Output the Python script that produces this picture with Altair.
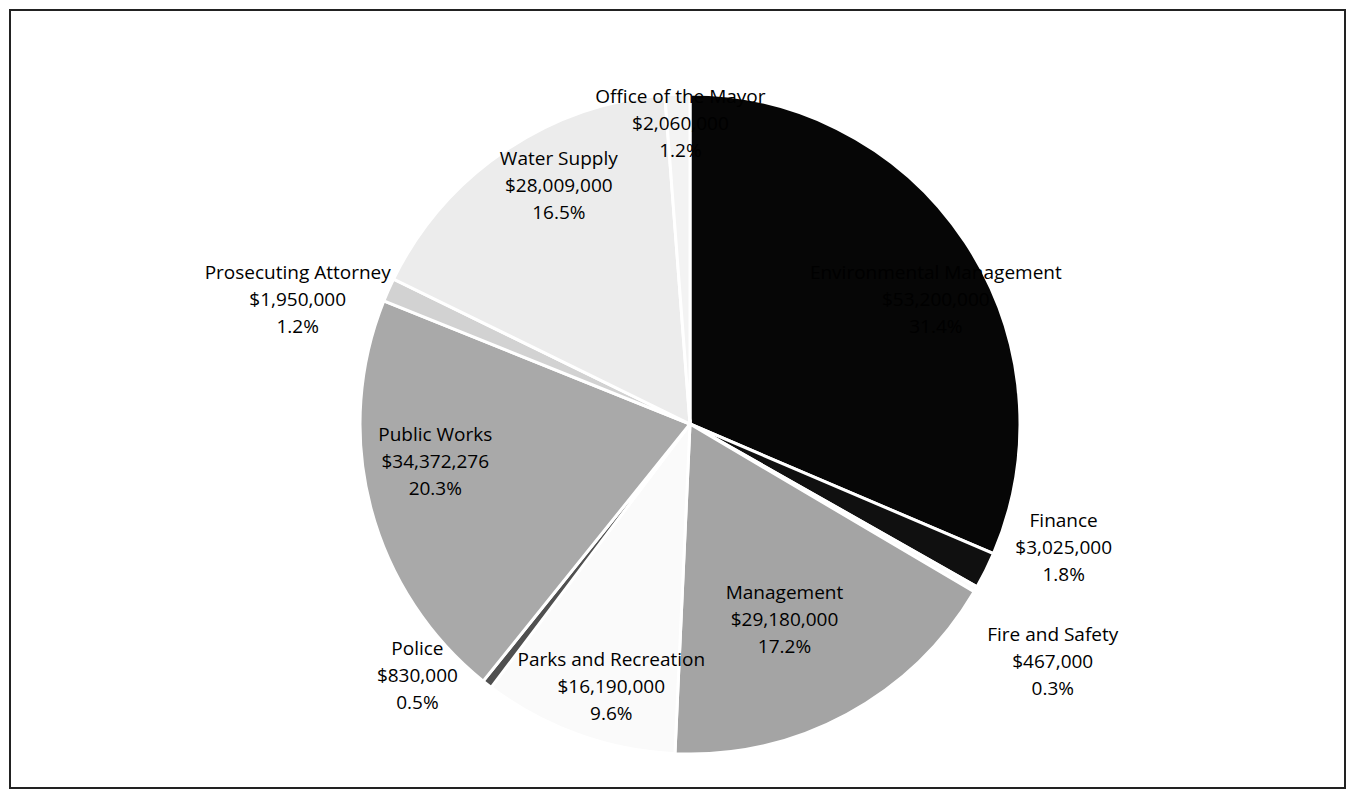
import altair as alt
import pandas as pd

categories = [
    "Environmental Management", "Finance", "Fire and Safety", "Management",
    "Parks and Recreation", "Police", "Public Works", "Prosecuting Attorney",
    "Water Supply", "Office of the Mayor",
]
values = [53200000, 3025000, 467000, 29180000, 16190000, 830000,
          34372276, 1950000, 28009000, 2060000]

# styling / layout (not data)
colors = ["#060606", "#101010", "#fbfbfb", "#a4a4a4", "#fafafa", "#505050",
          "#a9a9a9", "#d2d2d2", "#ececec", "#f3f3f3"]
label_radius = [280, 400, 440, 222, 275, 368, 252, 405, 267, 298]
label_nudge_deg = [7.5, -8.0, 3.0, 1.5, -4.5, 8.5, 5.4, -6.5, 6.2, 1.5]

total = sum(values)
labels = [f"{c}\n${v:,}\n{100 * v / total:.1f}%" for c, v in zip(categories, values)]

df = pd.DataFrame({
    "category": categories,
    "value": values,
    "order": list(range(len(categories))),
    "lr": label_radius,
    "nudge": label_nudge_deg,
    "label": labels,
})

CX, CY, R = 680, 414, 330

base = alt.Chart(df)

arcs = base.mark_arc(x=CX, y=CY, radius=R, stroke="white", strokeWidth=3).encode(
    theta=alt.Theta("value:Q", stack=True),
    order=alt.Order("order:Q"),
    color=alt.Color("category:N", scale=alt.Scale(domain=categories, range=colors), legend=None),
)

text = base.transform_window(
    cum="sum(value)", sort=[alt.SortField("order")], frame=[None, 0]
).transform_joinaggregate(
    total="sum(value)"
).transform_calculate(
    ang="2*PI*(datum.cum - datum.value/2)/datum.total + datum.nudge*PI/180"
).transform_calculate(
    px=f"{CX} + datum.lr*sin(datum.ang)",
    py=f"{CY} - datum.lr*cos(datum.ang)",
).mark_text(
    font="Open Sans", fontSize=19, lineBreak="\n", lineHeight=27,
    align="center", baseline="middle", color="black", dx=-6, dy=-29,
).encode(
    x=alt.X("px:Q", scale=None, axis=None),
    y=alt.Y("py:Q", scale=None, axis=None),
    text="label:N",
)

chart = alt.layer(arcs, text).properties(
    width=1335, height=778, padding=2,
    autosize=alt.AutoSizeParams(type="none"),
).configure_view(stroke="#222222", strokeWidth=2)

chart.save("out.html", embed_options={"renderer": "svg", "actions": False})
